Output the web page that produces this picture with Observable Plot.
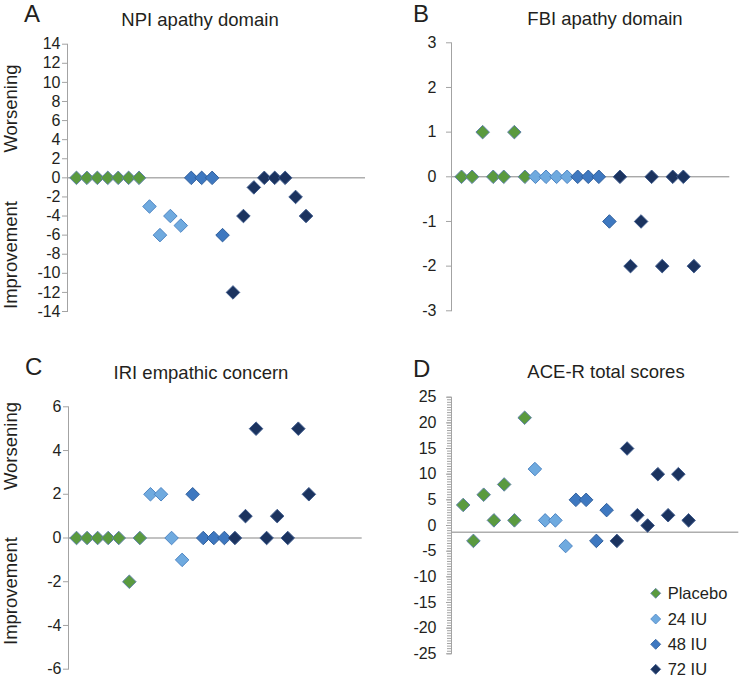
<!DOCTYPE html>
<html><head><meta charset="utf-8">
<script src="https://cdn.jsdelivr.net/npm/d3@7"></script>
<script src="https://cdn.jsdelivr.net/npm/@observablehq/plot@0.6"></script>
<style>
body{margin:0;background:#fff;}
#wrap{position:relative;width:740px;height:677px;overflow:hidden;font-family:"Liberation Sans",Arial,sans-serif;}
#wrap > svg{position:absolute;}
</style></head>
<body><div id="wrap"></div>
<script>
// ---------- data ----------
const groups = ["Placebo", "24 IU", "48 IU", "72 IU"];
const groupSizes = [7, 4, 4, 8];
const fills = ["#5a9a3f", "#6faadf", "#3e78c0", "#1b335f"];
const strokes = ["#5f82a8", "#4f86c4", "#305f9c", "#3f5b8c"];

const npiApathy = [0,0,0,0,0,0,0, -3,-6,-4,-5, 0,0,0,-6, -12,-4,-1,0,0,0,-2,-4];
const fbiApathy = [0,0,1,0,0,1,0, 0,0,0,0, 0,0,0,-1, 0,-2,-1,0,-2,0,0,-2];
const iriEmpathic = [0,0,0,0,0,-2,0, 2,2,0,-1, 2,0,0,0, 0,1,5,0,1,0,5,2];
const aceTotal = [4,-3,6,1,8,1,21, 11,1,1,-4, 5,5,-3,3, -3,15,2,0,10,2,10,1];

const ticksA = [-14,-12,-10,-8,-6,-4,-2,0,2,4,6,8,10,12,14];
const ticksB = [-3,-2,-1,0,1,2,3];
const ticksC = [-6,-4,-2,0,2,4,6];
const ticksD = [-25,-20,-15,-10,-5,0,5,10,15,20,25];
const baselineD = -1.3; // value where the horizontal axis crosses in panel D

const titles = ["NPI apathy domain", "FBI apathy domain", "IRI empathic concern", "ACE-R total scores"];
const letters = ["A", "B", "C", "D"];

// ---------- helpers ----------
const groupIndex = [];
groupSizes.forEach((n, g) => { for (let k = 0; k < n; k++) groupIndex.push(g); });
const toRows = vals => vals.map((v, i) => ({ i: i + 1, v, g: groupIndex[i] }));

const FONT = '"Liberation Sans", Arial, sans-serif';
const TEXT = "#231f20";

function panel(vals, yTicks, o) {
  const data = toRows(vals);
  const marks = [
    Plot.ruleY([o.base], { stroke: "#858585", strokeWidth: 1 }),
    Plot.axisY({ ticks: yTicks, tickSize: 5, tickPadding: o.tp, tickFormat: d => String(d),
                 stroke: "#a3a3a3", fill: TEXT, label: null, fontSize: 16 }),
    Plot.frame({ anchor: "left", stroke: "#a3a3a3" })
  ];
  if (o.minor) {
    marks.push(Plot.axisY({ ticks: o.minor, tickSize: 4, tickFormat: () => "", stroke: "#a3a3a3", label: null }));
  }
  groups.forEach((g, gi) => {
    marks.push(Plot.dot(data.filter(d => d.g === gi), {
      x: "i", y: "v", symbol: "diamond2", r: 6.1,
      fill: fills[gi], stroke: strokes[gi], strokeWidth: 1
    }));
  });
  const svg = Plot.plot({
    width: o.w, height: o.h,
    marginLeft: o.ml, marginRight: o.mr, marginTop: o.mt, marginBottom: o.mb,
    x: { domain: o.xd, axis: null },
    y: { domain: [yTicks[0], yTicks[yTicks.length - 1]], axis: null },
    style: { fontFamily: FONT, fontSize: "16px", color: TEXT, background: "transparent", overflow: "visible" },
    marks
  });
  svg.style.left = o.left + "px";
  svg.style.top = o.top + "px";
  return svg;
}

const wrap = document.getElementById("wrap");

wrap.appendChild(panel(npiApathy, ticksA, {
  left: 0, top: 0, w: 370, h: 330, ml: 67, mr: 5, mt: 43.7, mb: 19, xd: [0.14, 28.7], tp: 2, base: 0
}));
wrap.appendChild(panel(fbiApathy, ticksB, {
  left: 370, top: 0, w: 370, h: 330, ml: 81, mr: 10.7, mt: 42.3, mb: 19.7, xd: [0.05, 26.4], tp: 10, base: 0
}));
wrap.appendChild(panel(iriEmpathic, ticksC, {
  left: 0, top: 330, w: 370, h: 347, ml: 68, mr: 8.3, mt: 76.3, mb: 8.3, xd: [0.24, 28.05], tp: 2, base: 0
}));
wrap.appendChild(panel(aceTotal, ticksD, {
  left: 370, top: 330, w: 370, h: 347, ml: 81, mr: 1.7, mt: 66.7, mb: 23.7, xd: [-0.14, 27.9], tp: 10,
  base: baselineD, minor: d3.range(-25, 25.01, 0.5)
}));

// ---------- annotations overlay ----------
const ov = d3.select(wrap).append("svg")
  .attr("width", 740).attr("height", 677)
  .style("left", "0px").style("top", "0px")
  .attr("font-family", FONT).attr("fill", TEXT);

const letterPos = [[24, 22], [413, 22], [25, 375], [413, 376.5]];
letters.forEach((t, k) => ov.append("text").attr("x", letterPos[k][0]).attr("y", letterPos[k][1])
  .attr("font-size", 24).text(t));

const titlePos = [[200, 26], [605, 25], [201, 379], [606, 377.5]];
titles.forEach((t, k) => ov.append("text").attr("x", titlePos[k][0]).attr("y", titlePos[k][1])
  .attr("text-anchor", "middle").attr("font-size", 18.5).text(t));

const sideLabels = [["Worsening", 10, 108.5], ["Improvement", 10, 255], ["Worsening", 10, 446], ["Improvement", 10, 591]];
sideLabels.forEach(([t, x, y]) => ov.append("text")
  .attr("transform", `translate(${x},${y}) rotate(-90)`)
  .attr("text-anchor", "middle").attr("dominant-baseline", "central")
  .attr("font-size", 18.5).text(t));

// legend
const legY = [593.3, 619, 644.3, 669.3];
groups.forEach((g, k) => {
  const cy = legY[k], cx = 655.7, s = 5;
  ov.append("path").attr("d", `M${cx},${cy - s}L${cx + s},${cy}L${cx},${cy + s}L${cx - s},${cy}Z`)
    .attr("fill", fills[k]).attr("stroke", strokes[k]).attr("stroke-width", 0.8);
  ov.append("text").attr("x", 667.7).attr("y", cy).attr("dominant-baseline", "central")
    .attr("font-size", 16.5).text(g);
});
</script>
</body></html>
